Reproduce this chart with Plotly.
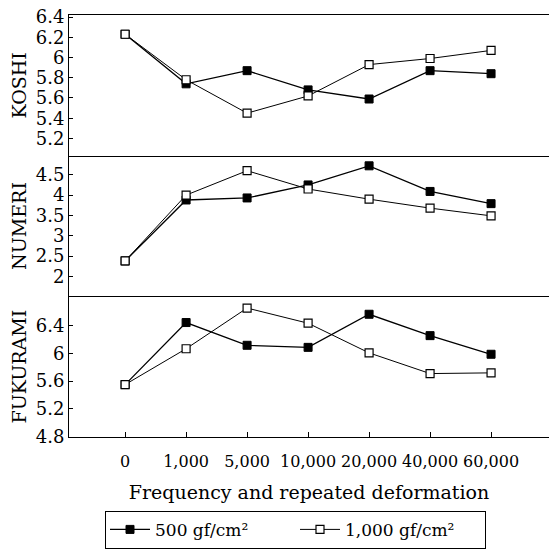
import plotly.graph_objects as go
from plotly.subplots import make_subplots

categories = ["0", "1,000", "5,000", "10,000", "20,000", "40,000", "60,000"]

koshi_500 = [6.23, 5.74, 5.87, 5.68, 5.59, 5.87, 5.84]
koshi_1000 = [6.23, 5.78, 5.45, 5.62, 5.93, 5.99, 6.07]
numeri_500 = [2.38, 3.88, 3.93, 4.25, 4.72, 4.09, 3.79]
numeri_1000 = [2.38, 4.00, 4.60, 4.15, 3.90, 3.68, 3.49]
fukurami_500 = [5.55, 6.45, 6.12, 6.09, 6.57, 6.26, 5.99]
fukurami_1000 = [5.55, 6.07, 6.66, 6.44, 6.01, 5.71, 5.72]

panel_names = ["KOSHI", "NUMERI", "FUKURAMI"]
koshi_ticks = [5.2, 5.4, 5.6, 5.8, 6.0, 6.2, 6.4]
koshi_ticktext = ["5.2", "5.4", "5.6", "5.8", "6", "6.2", "6.4"]
numeri_ticks = [2.0, 2.5, 3.0, 3.5, 4.0, 4.5]
numeri_ticktext = ["2", "2.5", "3", "3.5", "4", "4.5"]
fukurami_ticks = [4.8, 5.2, 5.6, 6.0, 6.4]
fukurami_ticktext = ["4.8", "5.2", "5.6", "6", "6.4"]

series_names = ["500 gf/cm²", "1,000 gf/cm²"]
x_title = "Frequency and repeated deformation"

FONT = "DejaVu Serif"

fig = make_subplots(rows=3, cols=1, shared_xaxes=True, vertical_spacing=0)

data = [(koshi_500, koshi_1000), (numeri_500, numeri_1000), (fukurami_500, fukurami_1000)]
for r, (a, b) in enumerate(data, start=1):
    fig.add_trace(go.Scatter(
        x=categories, y=a, mode="lines+markers", name=series_names[0],
        line=dict(color="black", width=1.3),
        marker=dict(symbol="square", size=8, color="black", line=dict(color="black", width=1)),
        showlegend=(r == 1), legendgroup="a"), row=r, col=1)
    fig.add_trace(go.Scatter(
        x=categories, y=b, mode="lines+markers", name=series_names[1],
        line=dict(color="black", width=1),
        marker=dict(symbol="square", size=8, color="white", line=dict(color="black", width=1.2)),
        showlegend=(r == 1), legendgroup="b"), row=r, col=1)

ranges = [[5.03, 6.42], [1.51, 4.97], [4.79, 6.83]]
ticks = [(koshi_ticks, koshi_ticktext), (numeri_ticks, numeri_ticktext), (fukurami_ticks, fukurami_ticktext)]
for r in range(1, 4):
    fig.update_yaxes(
        row=r, col=1, range=ranges[r - 1], tickvals=ticks[r - 1][0], ticktext=ticks[r - 1][1],
        showgrid=False, zeroline=False, showline=True, linecolor="black", linewidth=1,
        ticks="inside", ticklen=4, tickcolor="black", automargin=False,
        tickfont=dict(family=FONT, size=18, color="black"),
        title=dict(text=panel_names[r - 1], font=dict(family=FONT, size=19, color="black"), standoff=4),
    )
    fig.update_xaxes(
        row=r, col=1, type="category", range=[-0.92, 6.95],
        showgrid=False, zeroline=False, showline=True, mirror=(r == 1), linecolor="black", linewidth=1.3,
        ticks="inside" if r == 3 else "", ticklen=5, tickcolor="black",
        showticklabels=(r == 3), tickangle=0, automargin=False, ticklabelstandoff=10,
        tickfont=dict(family=FONT, size=16, color="black"),
    )
fig.update_xaxes(row=3, col=1, title=dict(text=x_title, font=dict(family=FONT, size=19, color="black"), standoff=15))

fig.update_layout(
    width=549, height=550,
    margin=dict(l=69, r=0, t=15, b=113),
    plot_bgcolor="white", paper_bgcolor="white",
    font=dict(family=FONT, color="black"),
    showlegend=True,
    legend=dict(orientation="h", x=0.075, y=-0.175, xanchor="left", yanchor="top",
                bordercolor="black", borderwidth=1, font=dict(family=FONT, size=17, color="black"),
                itemwidth=40, entrywidth=135, tracegroupgap=0),
)

fig.write_html("out.html")
